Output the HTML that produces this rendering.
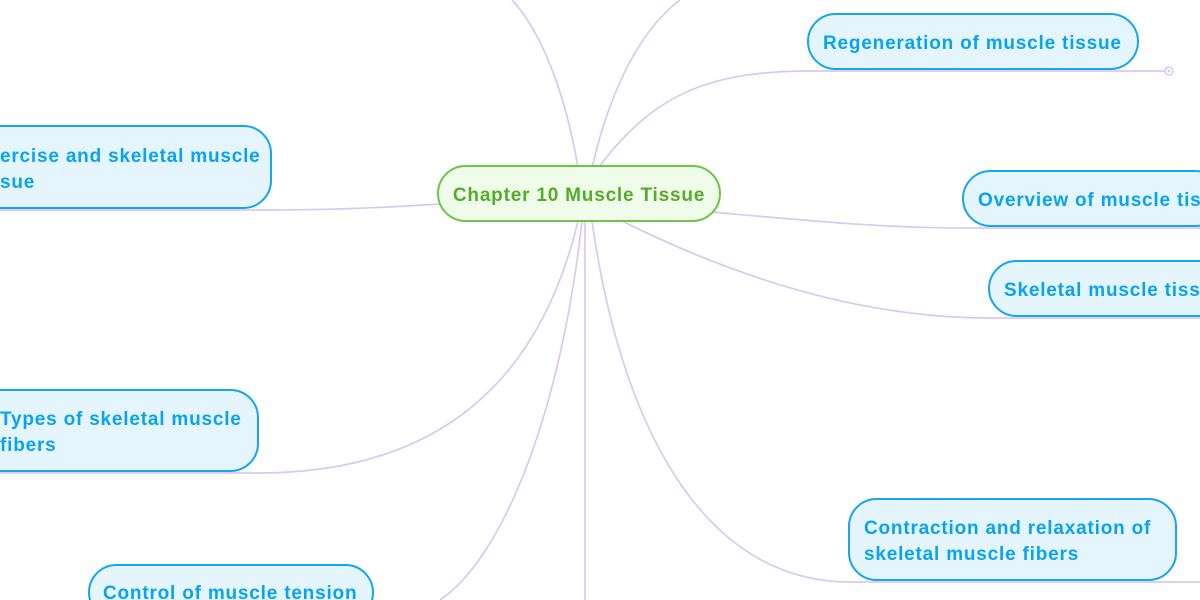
<!DOCTYPE html>
<html><head><meta charset="utf-8"><style>
html,body{margin:0;padding:0;background:#fff;width:1200px;height:600px;overflow:hidden}
svg{display:block}
text{font-family:"Liberation Sans",sans-serif;font-weight:bold;font-size:19px;letter-spacing:0.8px}
.b{fill:#e4f5fd;stroke:#15a5f2;stroke-width:2}
.bt{fill:#0aa2f2}
.l{fill:none;stroke:#d9c9f1;stroke-width:1.7}
</style></head><body>
<svg width="1200" height="600" viewBox="0 0 1200 600">
<path class="l" d="M578,168 C565,90 540,30 512,0"/>
<path class="l" d="M592,168 C610,90 640,30 680,0"/>
<path class="l" d="M598,168 C650,100 700,71 810,71 L1164,71"/>
<circle cx="1169" cy="71" r="4" fill="#fff" stroke="#d9c9f1" stroke-width="1.6"/>
<circle cx="1169" cy="71" r="1.5" fill="#d9c9f1"/>
<path class="l" d="M440,204 C380,208 330,210 270,210 L0,210"/>
<path class="l" d="M712,212 C800,220 880,228 965,228 L1200,228"/>
<path class="l" d="M620,220 C720,270 850,318 990,318 L1200,318"/>
<path class="l" d="M578,221 C540,380 440,473 258,473 L0,473"/>
<path class="l" d="M585,221 L585,600"/>
<path class="l" d="M582,221 C560,420 500,560 440,600"/>
<path class="l" d="M592,221 C620,420 700,582 850,582 L1200,582"/>
<rect x="438" y="166" width="282" height="55" rx="27.5" fill="#effcea" stroke="#6cc644" stroke-width="2"/>
<text x="579" y="201" text-anchor="middle" fill="#55ab2c">Chapter 10 Muscle Tissue</text>
<rect class="b" x="808" y="14" width="330" height="55" rx="27.5"/>
<text class="bt" x="823" y="49">Regeneration of muscle tissue</text>
<rect class="b" x="-30" y="126" width="301" height="82" rx="27.5"/>
<text class="bt" x="0" y="162">ercise and skeletal muscle</text>
<text class="bt" x="0" y="188">sue</text>
<rect class="b" x="963" y="171" width="260" height="55" rx="27.5"/>
<text class="bt" x="978" y="206">Overview of muscle tissue</text>
<rect class="b" x="989" y="261" width="240" height="55" rx="27.5"/>
<text class="bt" x="1004" y="296">Skeletal muscle tissue</text>
<rect class="b" x="-30" y="390" width="288" height="81" rx="27.5"/>
<text class="bt" x="0" y="425">Types of skeletal muscle</text>
<text class="bt" x="0" y="451">fibers</text>
<rect class="b" x="849" y="499" width="327" height="81" rx="27.5"/>
<text class="bt" x="864" y="534">Contraction and relaxation of</text>
<text class="bt" x="864" y="560">skeletal muscle fibers</text>
<rect class="b" x="89" y="565" width="284" height="55" rx="27.5"/>
<text class="bt" x="103" y="599">Control of muscle tension</text>
</svg>
</body></html>
